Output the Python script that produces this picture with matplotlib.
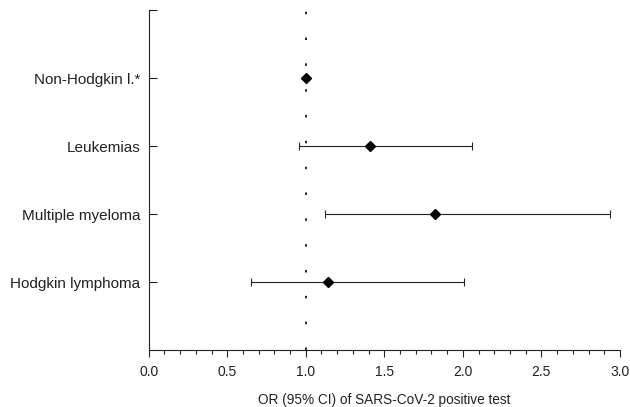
import matplotlib
matplotlib.use("Agg")
import matplotlib.pyplot as plt
from matplotlib.ticker import MultipleLocator

plt.rcParams['font.family'] = ['Liberation Sans', 'DejaVu Sans']

# odds ratios with 95% CI
labels = ["Non-Hodgkin l.*", "Leukemias", "Multiple myeloma", "Hodgkin lymphoma"]
odds = [1.00, 1.41, 1.82, 1.14]
ci_low = [1.00, 0.96, 1.12, 0.65]
ci_high = [1.00, 2.06, 2.94, 2.01]
xticks = [0.0, 0.5, 1.0, 1.5, 2.0, 2.5, 3.0]

fig = plt.figure(figsize=(6.3, 4.07), dpi=100)
ax = fig.add_axes([0.236, 0.14, 0.748, 0.835])

ypos = [4, 3, 2, 1]
err_lo = [o - l for o, l in zip(odds, ci_low)]
err_hi = [h - o for o, h in zip(odds, ci_high)]

# reference line at OR = 1
ax.axvline(1.0, color='black', lw=1.2, linestyle=(0, (1.5, 14)), zorder=1)

ax.errorbar(odds, ypos, xerr=[err_lo, err_hi], fmt='D', color='black',
            ecolor='#222222', elinewidth=0.8, capsize=3, capthick=0.8,
            markersize=5.5, zorder=3)

ax.set_xlim(0, 3.0)
ax.set_ylim(0, 5)
ax.set_xticks(xticks)
ax.set_xticklabels([f"{v:.1f}" for v in xticks])
ax.xaxis.set_minor_locator(MultipleLocator(0.1))
ax.set_yticks(ypos + [5])
ax.set_yticklabels(labels + [""])

for s in ['top', 'right']:
    ax.spines[s].set_visible(False)
for s in ['left', 'bottom']:
    ax.spines[s].set_linewidth(0.8)
    ax.spines[s].set_color('#222222')

ax.tick_params(axis='x', which='major', direction='out', length=5, width=0.8,
               labelsize=10, colors='#222222', pad=6)
ax.tick_params(axis='x', which='minor', direction='out', length=3, width=0.8,
               colors='#222222')
ax.tick_params(axis='y', direction='in', length=6, width=0.8, labelsize=11,
               colors='#222222', pad=6)

ax.set_xlabel("OR (95% CI) of SARS-CoV-2 positive test", fontsize=9.8,
              color='#222222', labelpad=10)

fig.savefig("out.png", dpi=100)
